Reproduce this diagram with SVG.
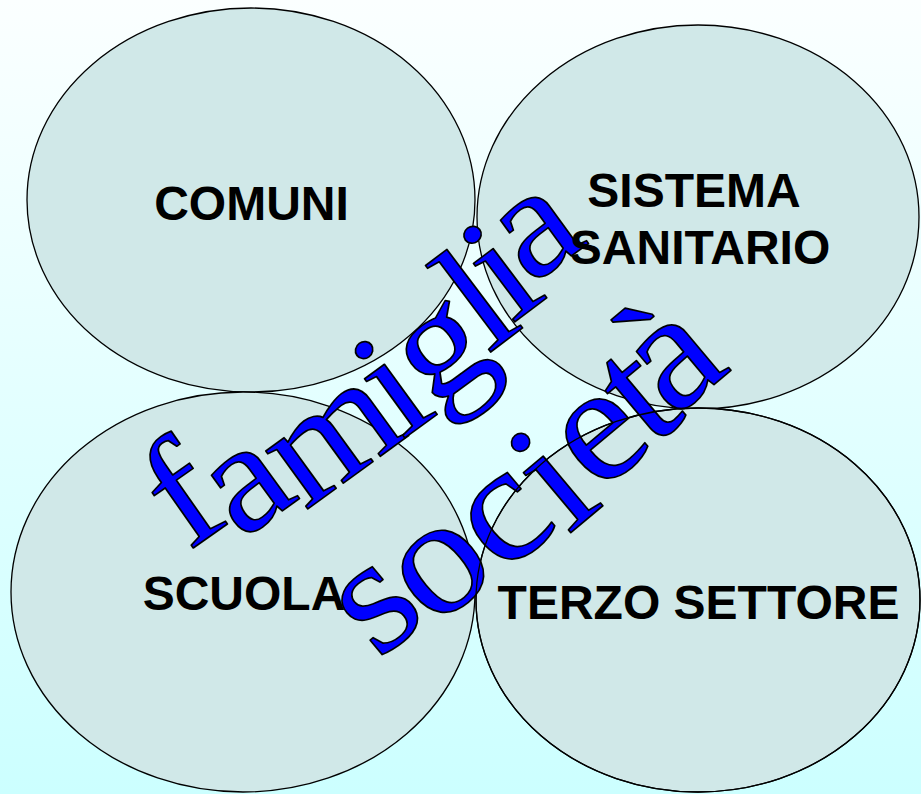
<svg xmlns="http://www.w3.org/2000/svg" width="921" height="794" viewBox="0 0 921 794">
  <defs>
    <linearGradient id="bg" x1="0" y1="0" x2="0" y2="1">
      <stop offset="0" stop-color="#fbffff"/>
      <stop offset="1" stop-color="#ccffff"/>
    </linearGradient>
    <style>
      .oval { fill: #d0e8e8; stroke: #000000; stroke-width: 1.3; }
      .ring { fill: none; stroke: #000000; stroke-width: 1.3; }
      .label { font-family: "Liberation Sans", Arial, sans-serif; font-weight: bold; font-size: 48px; fill: #000000; text-anchor: middle; }
      .word { font-family: "Liberation Serif", "Times New Roman", serif; fill: #0000ff; stroke: #000000; stroke-width: 1.6; stroke-linejoin: round; }
      .w1 { font-size: 150px; }
      .w2 { font-size: 160px; }
    </style>
  </defs>
  <rect x="0" y="0" width="921" height="794" fill="url(#bg)"/>
  <g id="node-comuni">
    <ellipse class="oval" cx="251" cy="200" rx="224" ry="192"/>
  </g>
  <g id="node-sistema-sanitario">
    <ellipse class="oval" cx="698" cy="217" rx="221" ry="192"/>
  </g>
  <g id="node-scuola">
    <ellipse class="oval" cx="243" cy="592" rx="232" ry="200"/>
  </g>
  <g id="node-terzo-settore">
    <ellipse class="oval" cx="698" cy="600" rx="222" ry="192"/>
  </g>
  <g id="word-famiglia" class="word w1">
    <text transform="translate(187.5 552) rotate(-35) scale(1.12 1.04)">f</text>
    <text transform="translate(241 541) rotate(-36) scale(1.12 1.04)">a</text>
    <text transform="translate(305 511) rotate(-36) scale(1.12 1.04)">m</text>
    <text transform="translate(402 440) rotate(-36) scale(1.12 1.04)">i</text>
    <text transform="translate(432 409) rotate(-36) scale(1.12 1.04)">g</text>
    <text transform="translate(488 354) rotate(-37) scale(1.12 1.04)">l</text>
    <text transform="translate(512 324) rotate(-37) scale(1.12 1.04)">i</text>
    <text transform="translate(530 286) rotate(-36) scale(1.12 1.04)">a</text>
  </g>
  <g id="word-societa" class="word w2">
    <text transform="translate(378 661) rotate(-40) scale(1.1 1.04)">s</text>
    <text transform="translate(434 629) rotate(-40) scale(1.1 1.04)">o</text>
    <text transform="translate(502 576) rotate(-40) scale(1.1 1.04)">c</text>
    <text transform="translate(568 535) rotate(-40) scale(1.1 1.04)">i</text>
    <text transform="translate(598 494) rotate(-40) scale(1.1 1.04)">e</text>
    <text transform="translate(651 448) rotate(-40) scale(1.1 1.04)">t</text>
    <text transform="translate(673 419) rotate(-40) scale(1.1 1.04)">à</text>
  </g>
  <g id="connectors">
    <ellipse class="ring" cx="698" cy="600" rx="222" ry="192"/>
  </g>
  <g id="labels">
    <text class="label" x="251.5" y="220">COMUNI</text>
    <text class="label" x="694" y="207">SISTEMA</text>
    <text class="label" x="700" y="264">SANITARIO</text>
    <text class="label" x="244" y="610">SCUOLA</text>
    <text class="label" x="698.5" y="619">TERZO SETTORE</text>
  </g>
</svg>
